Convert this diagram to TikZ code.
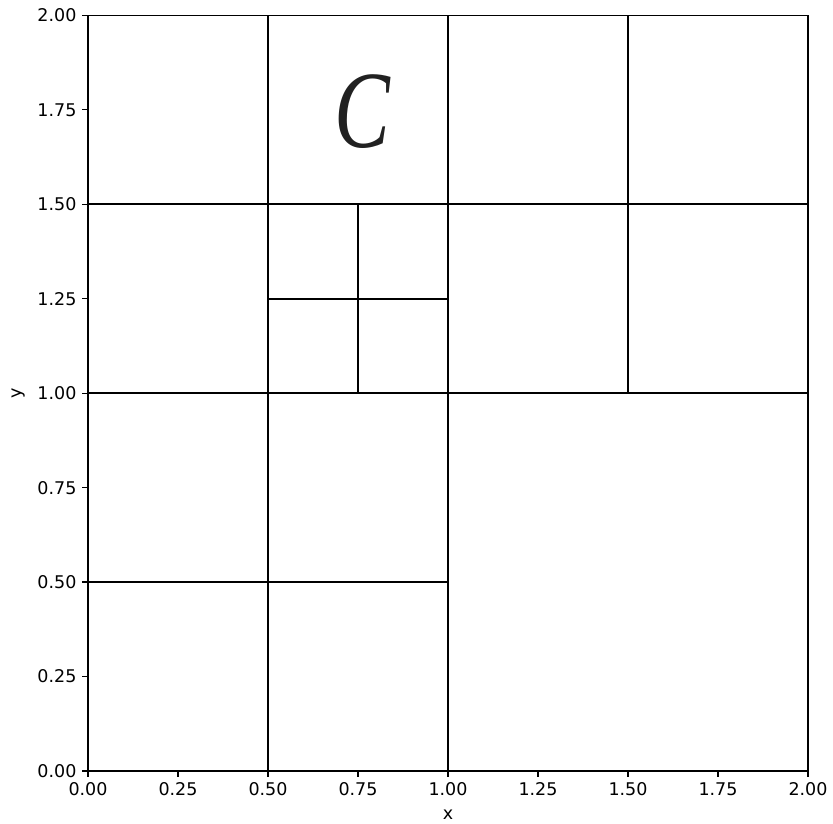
\documentclass[tikz,border=0pt]{standalone}
\usepackage{fontspec}
\setmainfont{DejaVu Sans}
\newfontfamily\letterfont{Liberation Serif}
\usepackage{tikz}

\begin{document}
\begin{tikzpicture}[x=360pt,y=377.8pt,line width=1.6pt,
  ticklabel/.style={font=\fontsize{17.5}{20}\selectfont,inner sep=0pt}]
\useasboundingbox (-88pt,-53pt) rectangle (745pt,771pt);
% quadtree cells
\draw (0.5,0)--(0.5,2)
(1,0)--(1,2)
(1.5,1)--(1.5,2)
(0.75,1)--(0.75,1.5);
\draw (0,1.5)--(2,1.5)
(0,1)--(2,1)
(0,0.5)--(1,0.5)
(0.5,1.25)--(1,1.25);
% frame
\draw (0,0) rectangle (2,2);
% ticks
\foreach \t/\lab [count=\k] in {0/0.00,0.25/0.25,0.5/0.50,0.75/0.75,1/1.00,1.25/1.25,1.5/1.50,1.75/1.75,2/2.00}{
\draw[line width=1.2pt] (\t,0)--++(0,-6pt) node[ticklabel,below=5pt] (xt\k) {\lab};
\draw[line width=1.2pt] (0,\t)--++(-6pt,0) node[ticklabel,left=5pt] (yt\k) {\lab};
}
\node[ticklabel,anchor=base] (xlab) at (1,-49pt) {x};
\node[ticklabel,rotate=90,anchor=base] (ylab) at (-66pt,1) {y};
\node[font=\letterfont\itshape\fontsize{110}{110}\selectfont,xscale=0.76,inner sep=0pt,text=black!87] (cell) at (0.762,1.745) {C};
\end{tikzpicture}
\end{document}
